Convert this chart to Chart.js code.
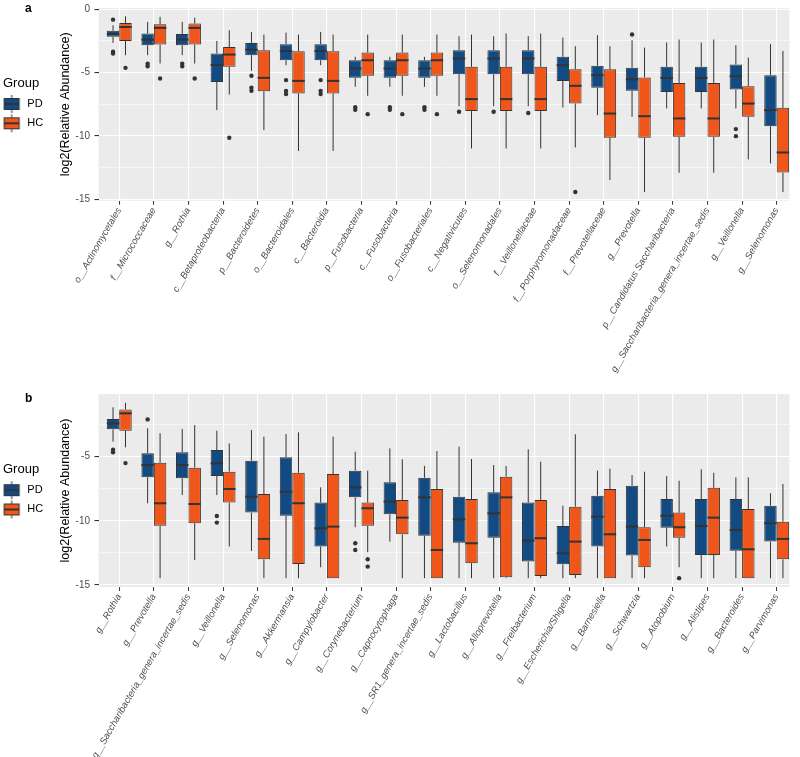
<!DOCTYPE html>
<html>
<head>
<meta charset="utf-8">
<script src="https://cdn.jsdelivr.net/npm/chart.js"></script>
<style>
  html, body { margin: 0; padding: 0; background: #fff; }
  canvas { display: block; }
</style>
</head>
<body>
<canvas id="panel-a" width="800" height="390"></canvas>
<canvas id="panel-b" width="800" height="367"></canvas>
<script>
// each box: [lower whisker, Q1, median, Q3, upper whisker]
var catsA = ["o__Actinomycetales", "f__Micrococcaceae", "g__Rothia", "c__Betaproteobacteria", "p__Bacteroidetes",
  "o__Bacteroidales", "c__Bacteroidia", "p__Fusobacteria", "c__Fusobacteria", "o__Fusobacteriales",
  "c__Negativicutes", "o__Selenomonadales", "f__Veillonellaceae", "f__Porphyromonadaceae", "f__Prevotellaceae",
  "g__Prevotella", "p__Candidatus Saccharibacteria", "g__Saccharibacteria_genera_incertae_sedis", "g__Veillonella", "g__Selenomonas"];

var pdA = [
  [-2.66, -2.18, -1.95, -1.7, -1.26], [-3.63, -2.84, -2.4, -1.92, -1.0], [-3.63, -2.84, -2.4, -1.95, -1.0],
  [-7.97, -5.74, -4.4, -3.5, -2.5], [-4.87, -3.63, -3.2, -2.66, -1.79], [-4.42, -4.03, -3.3, -2.76, -1.84],
  [-4.42, -4.03, -3.3, -2.76, -1.79], [-6.13, -5.42, -4.68, -4.03, -3.76], [-6.13, -5.42, -4.68, -4.03, -3.76],
  [-6.13, -5.42, -4.68, -4.03, -3.76], [-7.66, -5.13, -3.89, -3.24, -2.13], [-7.66, -5.13, -3.89, -3.24, -2.13],
  [-7.66, -5.13, -3.89, -3.24, -2.13], [-7.76, -5.66, -4.42, -3.76, -2.24], [-8.37, -6.21, -5.21, -4.47, -2.05],
  [-8.5, -6.45, -5.53, -4.63, -2.45], [-7.84, -6.53, -5.42, -4.55, -2.63], [-7.84, -6.53, -5.42, -4.55, -2.63],
  [-7.84, -6.34, -5.29, -4.37, -2.84], [-12.18, -9.24, -7.97, -5.21, -2.76]
];
var hcA = [
  [-3.63, -2.5, -1.4, -1.08, -0.55], [-4.29, -2.79, -1.47, -1.18, -0.6], [-4.29, -2.79, -1.47, -1.13, -0.66],
  [-6.74, -4.55, -3.58, -2.98, -1.66], [-9.55, -6.47, -5.42, -3.24, -2.0], [-11.2, -6.66, -5.66, -3.32, -2.0],
  [-11.2, -6.66, -5.66, -3.32, -2.0], [-6.84, -5.26, -4.03, -3.42, -2.0], [-6.84, -5.26, -4.03, -3.42, -2.0],
  [-6.84, -5.26, -4.03, -3.42, -2.0], [-11.0, -8.05, -7.1, -4.55, -2.0], [-11.0, -8.05, -7.1, -4.55, -1.92],
  [-11.0, -8.05, -7.1, -4.55, -1.92], [-10.92, -7.45, -6.05, -4.74, -2.92], [-13.5, -10.16, -8.24, -4.74, -2.92],
  [-14.44, -10.16, -8.45, -5.39, -3.03], [-12.92, -10.08, -8.63, -5.82, -2.39], [-12.92, -10.08, -8.63, -5.82, -2.39],
  [-11.87, -8.5, -7.45, -6.08, -3.82], [-14.44, -12.9, -11.32, -7.79, -3.29]
];
var pdOutA = [[-0.82, -3.35, -3.5], [-4.3, -4.5], [-4.3, -4.5], [], [-5.26, -6.2, -6.45], [-5.6, -6.45, -6.7],
  [-5.6, -6.45, -6.7], [-7.75, -7.95], [-7.75, -7.95], [-7.75, -7.95], [-8.1], [-8.1], [-8.2], [], [], [-2.0],
  [], [], [-9.47, -10.03], []];
var hcOutA = [[-4.63], [-5.47], [-5.47], [-10.16], [], [], [], [-8.29], [-8.29], [-8.29], [], [], [], [-14.44],
  [], [], [], [], [], []];

var catsB = ["g__Rothia", "g__Prevotella", "g__Saccharibacteria_genera_incertae_sedis", "g__Veillonella", "g__Selenomonas",
  "g__Akkermansia", "g__Campylobacter", "g__Corynebacterium", "g__Capnocytophaga", "g__SR1_genera_incertae_sedis",
  "g__Lactobacillus", "g__Alloprevotella", "g__Freibacterium", "g__Escherichia/Shigella", "g__Barnesiella",
  "g__Schwartzia", "g__Atopobium", "g__Alistipes", "g__Bacteroides", "g__Parvimonas"];

var pdB = [
  [-3.83, -2.86, -2.4, -2.06, -1.15], [-8.63, -6.6, -5.65, -4.73, -2.79], [-7.99, -6.68, -5.65, -4.66, -2.84],
  [-7.99, -6.5, -5.52, -4.48, -2.97], [-12.35, -9.36, -8.12, -5.31, -2.92], [-14.47, -9.6, -7.73, -5.05, -3.23],
  [-13.62, -12.0, -10.58, -8.58, -7.39], [-10.5, -8.17, -7.39, -6.09, -4.61], [-11.62, -9.49, -8.5, -7.0, -4.35],
  [-14.47, -11.16, -8.17, -6.64, -5.72], [-14.47, -11.7, -9.88, -8.12, -4.22], [-14.47, -11.31, -9.41, -7.78, -5.65],
  [-14.47, -13.18, -11.54, -8.58, -4.42], [-14.47, -13.39, -12.53, -10.4, -8.82], [-14.47, -12.01, -9.68, -8.04, -6.09],
  [-14.47, -12.71, -10.45, -7.26, -6.43], [-12.0, -10.53, -9.6, -8.3, -6.5], [-14.47, -12.66, -10.4, -8.3, -5.98],
  [-14.47, -12.33, -10.71, -8.3, -6.61], [-14.47, -11.62, -10.19, -8.82, -7.85]
];
var hcB = [
  [-4.27, -2.97, -1.62, -1.31, -0.8], [-14.47, -10.38, -8.63, -5.47, -3.17], [-13.05, -10.19, -8.69, -5.86, -2.53],
  [-12.0, -8.58, -7.52, -6.17, -3.96], [-14.47, -13.0, -11.41, -7.91, -3.44], [-14.47, -13.36, -8.63, -6.25, -3.1],
  [-14.47, -14.47, -10.45, -6.35, -3.44], [-12.45, -10.38, -9.02, -8.58, -6.09], [-14.47, -11.05, -9.75, -8.37, -5.2],
  [-14.47, -14.47, -12.27, -7.52, -4.56], [-14.47, -13.3, -11.75, -8.3, -5.18], [-14.47, -14.4, -8.17, -6.56, -5.72],
  [-14.47, -14.3, -11.36, -8.37, -5.39], [-14.47, -14.22, -11.62, -8.9, -3.25], [-14.47, -14.47, -11.05, -7.52, -5.93],
  [-14.47, -13.62, -11.49, -10.5, -6.17], [-13.62, -11.31, -10.5, -9.36, -6.87], [-14.47, -12.66, -9.75, -7.42, -6.25],
  [-14.47, -14.47, -12.22, -9.08, -6.61], [-14.47, -13.0, -11.41, -10.07, -7.13]
];
var pdOutB = [[-4.45, -4.65], [-2.09], [], [-9.62, -10.14], [], [], [], [-11.75, -12.27], [], [], [], [], [], [], [],
  [], [], [], [], []];
var hcOutB = [[-5.5], [], [], [], [], [], [], [-13.0, -13.57], [], [], [], [], [], [], [], [], [-14.47], [], [], []];

var yTicksA = [0, -5, -10, -15];
var yTicksB = [-5, -10, -15];
var yMinor = [-2.5, -7.5, -12.5];

var groups = ["PD", "HC"];
var groupColors = ["#124B84", "#F0561A"];
var ink = "#333333";

Chart.defaults.font.family = "'Liberation Sans', Arial, Helvetica, sans-serif";

// legend key: a small boxplot glyph, drawn off-centre so it sits under the title's left edge
function makeKey(color) {
  var c = document.createElement("canvas");
  c.width = 40; c.height = 20;
  var g = c.getContext("2d");
  var cx = 15.15;
  g.strokeStyle = ink; g.lineWidth = 1;
  g.beginPath(); g.moveTo(cx, 1); g.lineTo(cx, 19); g.stroke();
  g.fillStyle = color;
  g.fillRect(cx - 7.5, 4.5, 15, 11);
  g.strokeRect(cx - 7.5, 4.5, 15, 11);
  g.lineWidth = 2;
  g.beginPath(); g.moveTo(cx - 7.5, 10); g.lineTo(cx + 7.5, 10); g.stroke();
  return c;
}
var keys = groupColors.map(makeKey);

// grey panel, whiskers, medians, outliers and the panel letter
var boxParts = {
  id: "boxParts",
  beforeDraw: function (chart) {
    var a = chart.chartArea, ctx = chart.ctx;
    ctx.save();
    ctx.fillStyle = "#EBEBEB";
    ctx.fillRect(a.left, a.top, a.right - a.left, a.bottom - a.top);
    ctx.restore();
  },
  beforeDatasetsDraw: function (chart) {
    var ctx = chart.ctx, y = chart.scales.y;
    ctx.save();
    ctx.strokeStyle = ink;
    ctx.lineWidth = 1;
    chart.data.datasets.forEach(function (ds, d) {
      chart.getDatasetMeta(d).data.forEach(function (bar, i) {
        var s = ds.stats[i], x = bar.x;
        ctx.beginPath();
        ctx.moveTo(x, y.getPixelForValue(s[4])); ctx.lineTo(x, y.getPixelForValue(s[3]));
        ctx.moveTo(x, y.getPixelForValue(s[1])); ctx.lineTo(x, y.getPixelForValue(s[0]));
        ctx.stroke();
      });
    });
    ctx.restore();
  },
  afterDatasetsDraw: function (chart) {
    var ctx = chart.ctx, y = chart.scales.y;
    ctx.save();
    chart.data.datasets.forEach(function (ds, d) {
      chart.getDatasetMeta(d).data.forEach(function (bar, i) {
        var s = ds.stats[i], half = bar.width / 2, ym = y.getPixelForValue(s[2]);
        ctx.strokeStyle = ink;
        ctx.lineWidth = 2;
        ctx.beginPath(); ctx.moveTo(bar.x - half, ym); ctx.lineTo(bar.x + half, ym); ctx.stroke();
        ctx.fillStyle = ink;
        ds.outliers[i].forEach(function (v) {
          ctx.beginPath(); ctx.arc(bar.x, y.getPixelForValue(v), 2.2, 0, Math.PI * 2); ctx.fill();
        });
      });
    });
    ctx.restore();
  },
  afterDraw: function (chart, args, opts) {
    var ctx = chart.ctx;
    ctx.save();
    ctx.fillStyle = "#000";
    ctx.font = "bold 12px 'Liberation Sans', Arial, sans-serif";
    ctx.textBaseline = "middle";
    ctx.fillText(opts.letter, 25, opts.letterY);
    ctx.restore();
  }
};

function drawPanel(id, cats, pd, hc, pdOut, hcOut, yTicks, yMin, yMax, letter, letterY, topPad, axisHeight) {
  var isMajor = function (v) { return yTicks.indexOf(v) >= 0; };
  new Chart(id, {
    type: "bar",
    data: {
      datasets: [pd, hc].map(function (stats, k) {
        return {
          label: groups[k],
          data: stats.map(function (s, i) { return { x: i + 1, y: [s[1], s[3]] }; }),
          stats: stats,
          outliers: [pdOut, hcOut][k],
          backgroundColor: groupColors[k],
          borderColor: ink,
          borderWidth: 1,
          borderSkipped: false,
          categoryPercentage: 0.72,
          barPercentage: 1
        };
      })
    },
    options: {
      responsive: false,
      animation: false,
      events: [],
      layout: { padding: { left: 3, right: 10.5, top: topPad, bottom: 0 } },
      plugins: {
        tooltip: { enabled: false },
        boxParts: { letter: letter, letterY: letterY },
        legend: {
          position: "left",
          fullSize: false,
          align: "center",
          maxWidth: 42,
          title: {
            display: true, text: "Group", position: "start", color: "#000",
            font: { size: 13, lineHeight: 1 }, padding: { top: 5.2, bottom: 0.4 }
          },
          labels: {
            usePointStyle: true,
            pointStyleWidth: 10.5,
            padding: 8.3,
            color: "#000",
            font: { size: 11 },
            generateLabels: function () {
              return groups.map(function (g, k) {
                return { text: g, pointStyle: keys[k], fillStyle: groupColors[k], strokeStyle: ink, lineWidth: 0, hidden: false, datasetIndex: k };
              });
            }
          }
        }
      },
      scales: {
        x: {
          type: "linear",
          bounds: "data",
          offset: false,
          min: 0.4,
          max: 20.37,
          afterBuildTicks: function (s) { s.ticks = cats.map(function (c, i) { return { value: i + 1 }; }); },
          afterFit: function (s) { s.height = axisHeight; s.paddingLeft = 0; s.paddingRight = 0; },
          ticks: {
            autoSkip: false, minRotation: 60, maxRotation: 60, padding: 1, color: "#4D4D4D",
            font: { size: 9.5, style: "italic" },
            callback: function (v, i) { return cats[i]; }
          },
          grid: { offset: false, color: "#FFFFFF", lineWidth: 1.1, tickColor: ink, tickLength: 4, tickWidth: 1 },
          border: { display: false }
        },
        y: {
          min: yMin,
          max: yMax,
          afterBuildTicks: function (s) {
            s.ticks = yTicks.concat(yMinor).sort(function (a, b) { return a - b; }).map(function (v) { return { value: v }; });
          },
          afterFit: function (s) { s.width = 53.5; s.paddingTop = 0; s.paddingBottom = 0; },
          ticks: {
            autoSkip: false, padding: 4.5, color: "#4D4D4D", font: { size: 10 },
            callback: function (v) { return isMajor(v) ? String(v) : ""; }
          },
          grid: {
            color: "#FFFFFF",
            lineWidth: function (c) { return c.tick && isMajor(c.tick.value) ? 1.1 : 0.55; },
            tickColor: function (c) { return c.tick && isMajor(c.tick.value) ? ink : "rgba(0,0,0,0)"; },
            tickLength: 4
          },
          border: { display: false },
          title: {
            display: true, text: "log2(Relative Abundance)", color: "#000",
            font: { size: 12.5 }, padding: { top: 13.5, bottom: 0 }
          }
        }
      }
    },
    plugins: [boxParts]
  });
}

drawPanel("panel-a", catsA, pdA, hcA, pdOutA, hcOutA, yTicksA, -15.13, 0.1, "a", 8.5, 8, 189.3);
drawPanel("panel-b", catsB, pdB, hcB, pdOutB, hcOutB, yTicksB, -15.16, -0.11, "b", 9, 4, 170);
</script>
</body>
</html>
